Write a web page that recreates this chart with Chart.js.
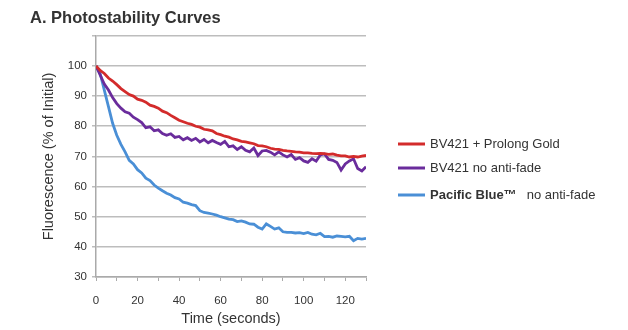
<!DOCTYPE html>
<html>
<head>
<meta charset="utf-8">
<script src="https://cdn.jsdelivr.net/npm/chart.js"></script>
<style>
  html, body { margin: 0; padding: 0; background: #fff; }
  #wrap { width: 628px; height: 330px; }
</style>
</head>
<body>
<div id="wrap"><canvas id="photoChart"></canvas></div>
<script>
    // time points (seconds)
    const timeSec = [0,2,4,6,8,10,12,14,16,18,20,22,24,26,28,30,32,34,36,38,40,42,44,46,48,50,52,54,56,58,60,62,64,66,68,70,72,74,76,78,80,82,84,86,88,90,92,94,96,98,100,102,104,106,108,110,112,114,116,118,120,122,124,126,128,130];

    const bv421Prolong = [100,98.5,97.5,96,95,93.8,92.5,91.5,90.5,90,89,88.6,88,87,86.6,86,85,84.5,83.6,82.8,82,81.5,81,80.6,80,79.7,79,78.8,78.5,77.6,77.2,76.7,76.4,75.8,75.5,75,74.8,74.5,74.2,73.6,73.5,73.2,72.7,72.4,72.3,72,71.8,71.7,71.5,71.4,71.2,71.2,71,70.9,71,70.9,70.7,70.8,70.4,70.2,70.2,69.8,70,69.8,70.1,70.3];

    const bv421NoFade = [100,97,94,92,89.5,87.5,86,84.8,84.3,83,82.2,81.2,79.5,79.8,78.5,78.8,77.6,77,77.5,76.3,76.6,75.5,76.2,75.3,76,74.8,75.6,74.5,75.3,74.6,74,75,73.2,73.5,72.3,73.2,72,71.5,72.8,70.3,71.8,72,71.4,70.5,71.5,70.5,69.8,70.6,69,69.6,68.5,68,69.2,68.4,70.5,70.8,69,68.7,68,65.5,67.5,68.5,69.2,66,65.2,66.6];

    const pacificBlue = [100,97.5,92,86.5,81,77,74,71.5,68.7,67.5,65.6,64.5,62.8,62,60.5,59.5,58.6,57.8,57.2,56.3,55.9,54.8,54.5,54,53.7,52,51.4,51.2,50.9,50.5,50,49.6,49.2,49,48.4,48.6,48.2,47.6,47.5,46.5,45.9,47.6,46.8,45.9,46.3,45,44.8,44.8,44.6,44.7,44.4,44.8,44.2,44,44.5,43.4,43.5,43.2,43.6,43.5,43.3,43.5,42,42.8,42.6,42.8];

    const seriesLabels = ['BV421 + Prolong Gold', 'BV421 no anti-fade', 'Pacific Blue\u2122 no anti-fade'];
    const boldPrefix = ['', '', 'Pacific Blue\u2122'];
    const seriesColors = ['#d32b2b', '#6a2c9c', '#4a8fd6'];

    const toPoints = vals => vals.map((v, i) => ({ x: timeSec[i], y: v }));

    const fontFam = '"Liberation Sans", Arial, sans-serif';

    // legend drawn to the right of the plot
    const sideLegend = {
        id: 'sideLegend',
        afterDraw(chart) {
            const ctx = chart.ctx;
            const x0 = 398, rowY = [144, 168, 195];
            ctx.save();
            chart.data.datasets.forEach((ds, i) => {
                const y = rowY[i];
                ctx.strokeStyle = ds.borderColor;
                ctx.lineWidth = 3;
                ctx.beginPath();
                ctx.moveTo(x0, y);
                ctx.lineTo(x0 + 27, y);
                ctx.stroke();
                ctx.fillStyle = '#333';
                ctx.textBaseline = 'middle';
                let tx = x0 + 32;
                let rest = ds.label;
                if (boldPrefix[i]) {
                    ctx.font = 'bold 13px ' + fontFam;
                    ctx.fillText(boldPrefix[i], tx, y);
                    tx += ctx.measureText(boldPrefix[i]).width + 10;
                    rest = ds.label.slice(boldPrefix[i].length).trim();
                }
                ctx.font = '13px ' + fontFam;
                ctx.fillText(rest, tx, y);
            });
            ctx.restore();
        }
    };

    const ctx = document.getElementById('photoChart').getContext('2d');
    const photoChart = new Chart(ctx, {
        type: 'line',
        data: {
            datasets: [bv421Prolong, bv421NoFade, pacificBlue].map((vals, i) => ({
                label: seriesLabels[i],
                data: toPoints(vals),
                borderColor: seriesColors[i],
                backgroundColor: seriesColors[i],
                borderWidth: 2.8,
                pointRadius: 0,
                tension: 0,
                fill: false
            }))
        },
        options: {
            responsive: true,
            maintainAspectRatio: false,
            animation: false,
            layout: { padding: { left: 30, right: 262, top: 0, bottom: 0 } },
            plugins: {
                legend: { display: false },
                tooltip: { enabled: false },
                title: {
                    display: true,
                    text: 'A. Photostability Curves',
                    align: 'start',
                    color: '#333',
                    font: { family: fontFam, size: 16.5, weight: 'bold' },
                    padding: { top: 9, bottom: 7 }
                }
            },
            scales: {
                x: {
                    type: 'linear',
                    min: 0,
                    max: 130,
                    afterFit: axis => { axis.height = 53; },
                    ticks: {
                        stepSize: 10,
                        color: '#333',
                        padding: 13,
                        autoSkip: false,
                        maxRotation: 0,
                        font: { family: fontFam, size: 11.5 },
                        callback: v => (v % 20 === 0 ? v : '')
                    },
                    grid: { drawOnChartArea: false, drawTicks: true, tickLength: 4, color: '#aaa' },
                    border: { color: '#aaa', width: 1.5 },
                    title: {
                        display: true,
                        text: 'Time (seconds)',
                        color: '#333',
                        font: { family: fontFam, size: 14.5 },
                        padding: { top: 0, bottom: 2 }
                    }
                },
                y: {
                    min: 30,
                    max: 110,
                    afterFit: axis => { axis.width = 66; },
                    ticks: {
                        stepSize: 10,
                        color: '#333',
                        padding: 5,
                        font: { family: fontFam, size: 11.5 },
                        callback: v => (v === 110 ? '' : v)
                    },
                    grid: { color: '#bdbdbd', lineWidth: 1.5, tickLength: 4 },
                    border: { color: '#aaa', width: 1.5 },
                    title: {
                        display: true,
                        text: 'Fluorescence (% of Initial)',
                        color: '#333',
                        font: { family: fontFam, size: 14.5 },
                        padding: { top: 10, bottom: 4 }
                    }
                }
            }
        },
        plugins: [sideLegend]
    });
</script>
</body>
</html>
